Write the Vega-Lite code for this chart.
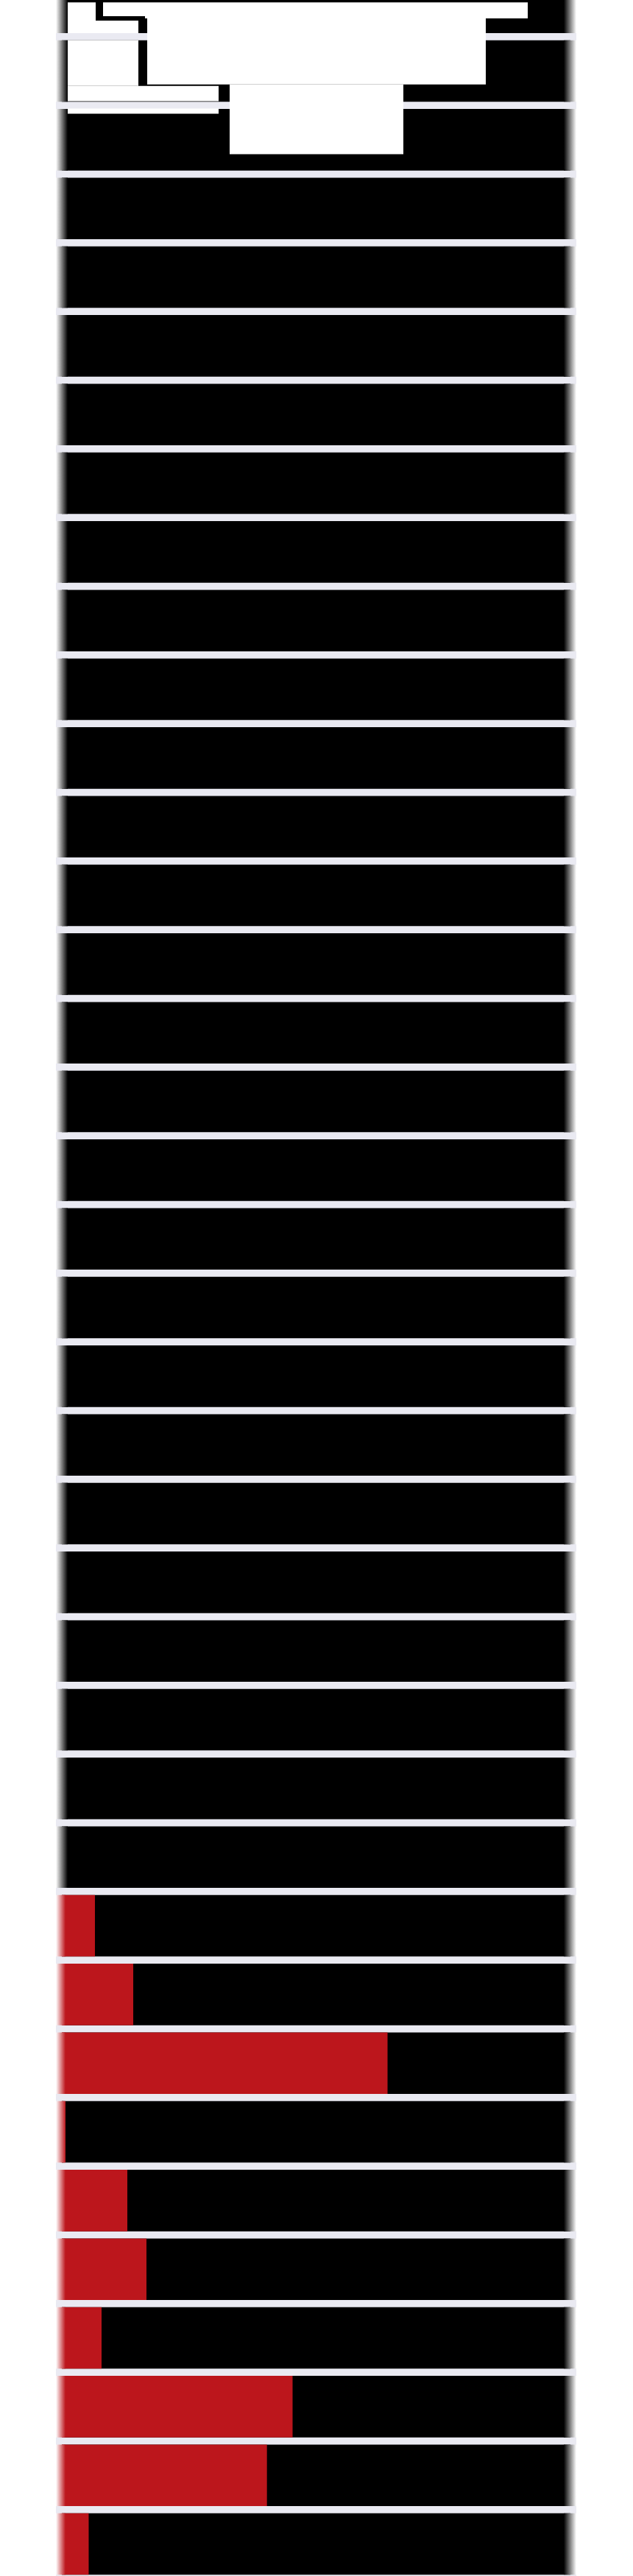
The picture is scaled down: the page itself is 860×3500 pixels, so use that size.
{
  "$schema": "https://vega.github.io/schema/vega-lite/v6.json",
  "width": 707,
  "height": 3500,
  "autosize": {"type": "none"},
  "padding": {"left": 76, "right": 77, "top": 0, "bottom": 0},
  "background": "white",
  "config": {"view": {"fill": "#EAEAF2", "stroke": null}},
  "datasets": {
    "bars": [
      {"row": 0, "total": 100, "red": 0}, {"row": 1, "total": 100, "red": 0}, {"row": 2, "total": 100, "red": 0},
      {"row": 3, "total": 100, "red": 0}, {"row": 4, "total": 100, "red": 0}, {"row": 5, "total": 100, "red": 0},
      {"row": 6, "total": 100, "red": 0}, {"row": 7, "total": 100, "red": 0}, {"row": 8, "total": 100, "red": 0},
      {"row": 9, "total": 100, "red": 0}, {"row": 10, "total": 100, "red": 0}, {"row": 11, "total": 100, "red": 0},
      {"row": 12, "total": 100, "red": 0}, {"row": 13, "total": 100, "red": 0}, {"row": 14, "total": 100, "red": 0},
      {"row": 15, "total": 100, "red": 0}, {"row": 16, "total": 100, "red": 0}, {"row": 17, "total": 100, "red": 0},
      {"row": 18, "total": 100, "red": 0}, {"row": 19, "total": 100, "red": 0}, {"row": 20, "total": 100, "red": 0},
      {"row": 21, "total": 100, "red": 0}, {"row": 22, "total": 100, "red": 0}, {"row": 23, "total": 100, "red": 0},
      {"row": 24, "total": 100, "red": 0}, {"row": 25, "total": 100, "red": 0}, {"row": 26, "total": 100, "red": 0},
      {"row": 27, "total": 100, "red": 0},
      {"row": 28, "total": 100, "red": 6.51}, {"row": 29, "total": 100, "red": 14.04},
      {"row": 30, "total": 100, "red": 64.04}, {"row": 31, "total": 100, "red": 0.36},
      {"row": 32, "total": 100, "red": 12.88}, {"row": 33, "total": 100, "red": 16.64},
      {"row": 34, "total": 100, "red": 7.81}, {"row": 35, "total": 100, "red": 45.37},
      {"row": 36, "total": 100, "red": 40.33}, {"row": 37, "total": 100, "red": 5.28}
    ],
    "inner": [
      {"x": 1.158, "x2": 6.657, "y": 0, "y2": 0.265},
      {"x": 1.158, "x2": 15.051, "y": 0.265, "y2": 0.4466},
      {"x": 1.158, "x2": 15.051, "y": 0.5534, "y2": 1.2158},
      {"x": 1.158, "x2": 30.825, "y": 1.2158, "y2": 1.4402},
      {"x": 1.158, "x2": 30.825, "y": 1.547, "y2": 1.6218}
    ],
    "outer": [
      {"x": 8.104, "x2": 91.606, "y": 0, "y2": 0.2009},
      {"x": 16.353, "x2": 91.606, "y": 0.2009, "y2": 0.2329},
      {"x": 16.787, "x2": 83.357, "y": 0.2329, "y2": 1.1944},
      {"x": 32.996, "x2": 67.149, "y": 1.1944, "y2": 2.2094}
    ]
  },
  "layer": [
    {
      "data": {"name": "bars"},
      "mark": {"type": "bar", "orient": "horizontal", "height": 83.6, "color": "#000000", "clip": true},
      "encoding": {
        "x": {"field": "total", "type": "quantitative", "axis": null, "scale": {"domain": [-1.158, 101.158], "nice": false, "zero": false}},
        "y": {"field": "row", "type": "quantitative", "axis": null, "scale": {"domain": [0.01923, 37.4124], "reverse": true, "nice": false, "zero": false}}
      }
    },
    {
      "data": {"name": "bars"},
      "transform": [{"filter": "datum.red > 0"}],
      "mark": {"type": "bar", "orient": "horizontal", "height": 83.6, "color": "#BC161C", "clip": true},
      "encoding": {
        "x": {"field": "red", "type": "quantitative", "axis": null},
        "y": {"field": "row", "type": "quantitative", "axis": null}
      }
    },
    {
      "data": {"name": "bars"},
      "transform": [{"filter": "datum.red == 0"}],
      "mark": {"type": "bar", "orient": "horizontal", "height": 83.6, "clip": true,
        "color": {"gradient": "linear", "x1": 0, "y1": 0, "x2": 1, "y2": 0,
          "stops": [{"offset": 0, "color": "#ffffff"}, {"offset": 1, "color": "#000000"}]}},
      "encoding": {
        "x": {"datum": -1.158, "type": "quantitative", "axis": null},
        "x2": {"datum": 1.158},
        "y": {"field": "row", "type": "quantitative", "axis": null}
      }
    },
    {
      "data": {"name": "bars"},
      "transform": [{"filter": "datum.red > 0"}],
      "mark": {"type": "bar", "orient": "horizontal", "height": 83.6, "clip": true,
        "color": {"gradient": "linear", "x1": 0, "y1": 0, "x2": 1, "y2": 0,
          "stops": [{"offset": 0, "color": "#ffffff"}, {"offset": 1, "color": "#BC161C"}]}},
      "encoding": {
        "x": {"datum": -1.158, "type": "quantitative", "axis": null},
        "x2": {"datum": 0.72},
        "y": {"field": "row", "type": "quantitative", "axis": null}
      }
    },
    {
      "data": {"name": "bars"},
      "mark": {"type": "bar", "orient": "horizontal", "height": 83.6, "clip": true,
        "color": {"gradient": "linear", "x1": 0, "y1": 0, "x2": 1, "y2": 0,
          "stops": [{"offset": 0, "color": "#000000"}, {"offset": 1, "color": "#ffffff"}]}},
      "encoding": {
        "x": {"datum": 98.698, "type": "quantitative", "axis": null},
        "x2": {"datum": 101.158},
        "y": {"field": "row", "type": "quantitative", "axis": null}
      }
    },
    {
      "data": {"name": "inner"},
      "mark": {"type": "rect", "color": "#ffffff", "clip": true},
      "encoding": {
        "x": {"field": "x", "type": "quantitative", "axis": null},
        "x2": {"field": "x2"},
        "y": {"field": "y", "type": "quantitative", "axis": null},
        "y2": {"field": "y2"}
      }
    },
    {
      "data": {"name": "outer"},
      "mark": {"type": "rect", "color": "#ffffff", "clip": true},
      "encoding": {
        "x": {"field": "x", "type": "quantitative", "axis": null},
        "x2": {"field": "x2"},
        "y": {"field": "y", "type": "quantitative", "axis": null},
        "y2": {"field": "y2"}
      }
    }
  ]
}
